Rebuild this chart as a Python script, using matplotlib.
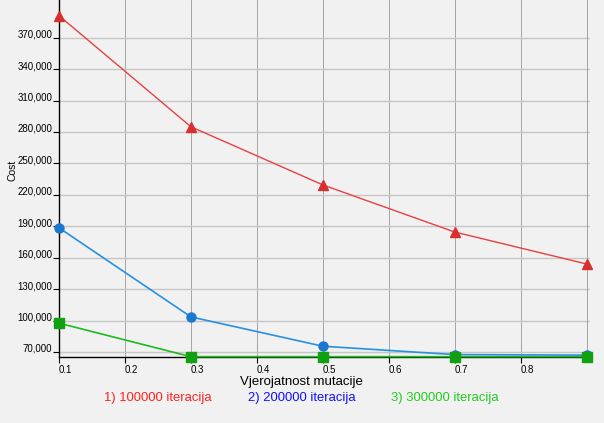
import matplotlib
matplotlib.use("Agg")
from matplotlib import pyplot as plt
from matplotlib.ticker import FuncFormatter

# mutation probability
p_mut = [0.1, 0.3, 0.5, 0.7, 0.9]
# cost per number of iterations
cost_100k = [391000, 285000, 229500, 184500, 154000]
cost_200k = [188500, 103500, 75500, 67500, 67000]
cost_300k = [97500, 65500, 65500, 65500, 65500]
series_labels = ["1) 100000 iteracija", "2) 200000 iteracija", "3) 300000 iteracija"]

plt.rcParams["font.family"] = ["Liberation Sans", "DejaVu Sans"]

bg = "#f1f1f1"
fig = plt.figure(figsize=(6.04, 4.23), dpi=100, facecolor=bg)
ax = fig.add_axes([0.0977, 0.156, 0.879, 0.844], facecolor=bg)

ax.plot(p_mut, cost_100k, color="#e84040", lw=1, marker="^", ms=6.5,
        mfc="#d83030", mec="#d83030", clip_on=False, zorder=3)
ax.plot(p_mut, cost_200k, color="#2890e0", lw=1.2, marker="o", ms=6.5,
        mfc="#1a78d0", mec="#1a78d0", clip_on=False, zorder=3)
ax.plot(p_mut, cost_300k, color="#20b820", lw=1.2, marker="s", ms=6.5,
        mfc="#10a010", mec="#10a010", clip_on=False, zorder=4)

ax.set_xlim(0.1, 0.905)
ax.set_ylim(65200, 406000)
ax.set_xticks([0.1, 0.2, 0.3, 0.4, 0.5, 0.6, 0.7, 0.8])
ax.set_yticks(range(70000, 370001, 30000))
ax.yaxis.set_major_formatter(FuncFormatter(lambda v, _: f"{int(v):,}"))
for lbl in ax.get_xticklabels():
    lbl.set_horizontalalignment("left")
for lbl in ax.get_yticklabels():
    lbl.set_verticalalignment("baseline")
ax.tick_params(axis="both", labelsize=7, length=4, width=0.8, direction="out", pad=1.5)
ax.tick_params(axis="y", pad=1)

ax.grid(axis="x", color="#a4a4a4", lw=0.7)
ax.grid(axis="y", color="#c6c6c6", lw=1.0)
ax.axvline(0.9, color="#a4a4a4", lw=0.7)
ax.set_axisbelow(True)

for s in ["top", "right"]:
    ax.spines[s].set_visible(False)
ax.spines["left"].set_linewidth(1)
ax.spines["bottom"].set_linewidth(1)

fig.text(0.499, 1 - 382 / 423, "Vjerojatnost mutacije", fontsize=9.5,
         ha="center", va="center")
fig.text(12 / 604, 1 - 170 / 423, "Cost", rotation=90, fontsize=7.5,
         ha="center", va="center")

# legend texts below axis
legend_x = [0.261, 0.499, 0.737]
legend_col = ["#ff2020", "#1010ff", "#20cc20"]
for x, t, c in zip(legend_x, series_labels, legend_col):
    fig.text(x, 0.058, t, color=c, fontsize=9.4, ha="center", va="center")

fig.savefig("out.png", dpi=100, facecolor=bg)
